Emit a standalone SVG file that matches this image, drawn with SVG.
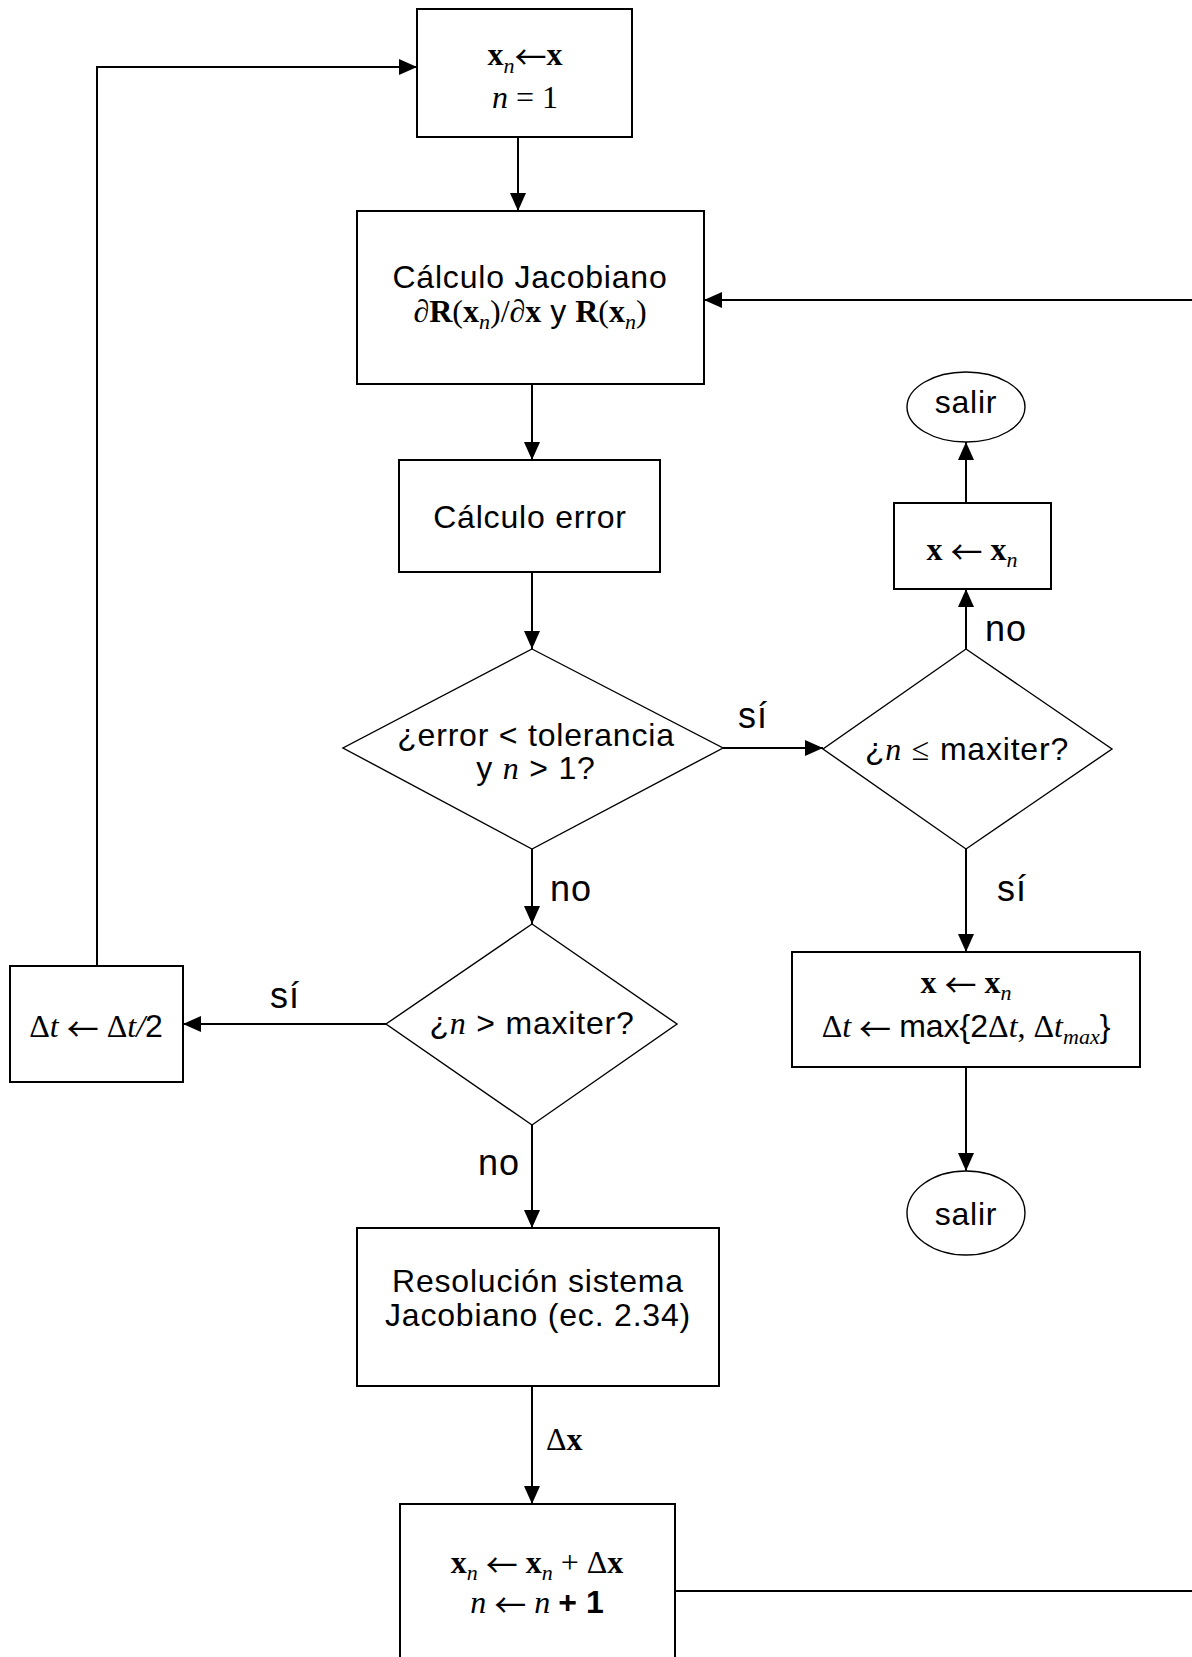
<svg xmlns="http://www.w3.org/2000/svg" width="1192" height="1657" viewBox="0 0 1192 1657">
<style>
.box{fill:#fff;stroke:#000;stroke-width:2}
.dia{fill:#fff;stroke:#000;stroke-width:1.4}
.ell{fill:#fff;stroke:#000;stroke-width:1.4}
.con{fill:none;stroke:#000;stroke-width:2}
.t{font-family:"Liberation Sans",Arial,sans-serif;font-size:32px;letter-spacing:0.8px;text-anchor:middle;fill:#000}
.lbl{font-family:"Liberation Sans",Arial,sans-serif;font-size:36px;letter-spacing:1px;fill:#000}
.m{font-family:"Liberation Serif","Times New Roman",serif;font-size:32px;text-anchor:middle;fill:#000}
.ms{font-family:"Liberation Serif","Times New Roman",serif;font-size:32px;text-anchor:start;fill:#000}
.b{font-weight:bold}
.i{font-style:italic}
.s{font-family:"Liberation Sans",Arial,sans-serif}
.r{font-family:"Liberation Serif","Times New Roman",serif}
.sub{font-size:22px}
.ar{font-family:"Noto Sans CJK JP","Noto Sans CJK SC","DejaVu Sans",sans-serif;font-size:32px;font-weight:normal;font-style:normal}
</style>
<defs>
<marker id="ah" markerUnits="userSpaceOnUse" markerWidth="18" markerHeight="16" refX="18" refY="8" orient="auto">
<path d="M0,0 L18,8 L0,16 z" fill="#000"/>
</marker>
</defs>
<rect width="1192" height="1657" fill="#fff"/>

<g id="connectors">
<line class="con" x1="518" y1="137" x2="518" y2="211" marker-end="url(#ah)"/>
<line class="con" x1="532" y1="384" x2="532" y2="460" marker-end="url(#ah)"/>
<line class="con" x1="532" y1="572" x2="532" y2="649" marker-end="url(#ah)"/>
<line class="con" x1="723" y1="748" x2="823" y2="748" marker-end="url(#ah)"/>
<line class="con" x1="966" y1="649" x2="966" y2="589" marker-end="url(#ah)"/>
<line class="con" x1="966" y1="503" x2="966" y2="442" marker-end="url(#ah)"/>
<line class="con" x1="966" y1="849" x2="966" y2="952" marker-end="url(#ah)"/>
<line class="con" x1="966" y1="1067" x2="966" y2="1171" marker-end="url(#ah)"/>
<line class="con" x1="532" y1="849" x2="532" y2="924" marker-end="url(#ah)"/>
<line class="con" x1="386" y1="1024" x2="183" y2="1024" marker-end="url(#ah)"/>
<path class="con" d="M97,966 V67 H417" marker-end="url(#ah)"/>
<line class="con" x1="532" y1="1125" x2="532" y2="1228" marker-end="url(#ah)"/>
<line class="con" x1="532" y1="1386" x2="532" y2="1504" marker-end="url(#ah)"/>
<path class="con" d="M675,1591 H1215 V300 H704" marker-end="url(#ah)"/>
<text class="lbl" x="753" y="728" text-anchor="middle">sí</text>
<text class="lbl" x="1006" y="641" text-anchor="middle">no</text>
<text class="lbl" x="1012" y="901" text-anchor="middle">sí</text>
<text class="lbl" x="571" y="901" text-anchor="middle">no</text>
<text class="lbl" x="285" y="1008" text-anchor="middle">sí</text>
<text class="lbl" x="499" y="1175" text-anchor="middle">no</text>
<text class="ms" x="546" y="1450">Δ<tspan class="b">x</tspan></text>
</g>

<g id="init">
<rect class="box" x="417" y="9" width="215" height="128"/>
<text class="m" x="525" y="65"><tspan class="b">x</tspan><tspan class="i sub" dy="8">n</tspan><tspan class="ar" dy="-4">←</tspan><tspan class="b" dy="-4">x</tspan></text>
<text class="m" x="525" y="108"><tspan class="i">n</tspan> = 1</text>
</g>

<g id="jacobian">
<rect class="box" x="357" y="211" width="347" height="173"/>
<text class="t" x="530" y="288">Cálculo Jacobiano</text>
<text class="m" x="530" y="322"><tspan class="i">∂</tspan><tspan class="b">R</tspan>(<tspan class="b">x</tspan><tspan class="i sub" dy="7">n</tspan><tspan dy="-7">)/</tspan><tspan class="i">∂</tspan><tspan class="b">x</tspan><tspan class="s"> y </tspan><tspan class="b">R</tspan>(<tspan class="b">x</tspan><tspan class="i sub" dy="7">n</tspan><tspan dy="-7">)</tspan></text>
</g>

<g id="error">
<rect class="box" x="399" y="460" width="261" height="112"/>
<text class="t" x="530" y="528">Cálculo error</text>
</g>

<g id="check-tol">
<polygon class="dia" points="532,649 723,748 532,849 343,748"/>
<text class="t" x="536" y="746">¿error &lt; tolerancia</text>
<text class="t" x="536" y="779">y <tspan class="r i">n</tspan> &gt; 1?</text>
</g>

<g id="check-le">
<polygon class="dia" points="966,649 1112,749 966,849 823,749"/>
<text class="t" x="967" y="760">¿<tspan class="r i">n</tspan> <tspan class="r">≤</tspan> maxiter?</text>
</g>

<g id="assign1">
<rect class="box" x="894" y="503" width="157" height="86"/>
<text class="m" x="972" y="560"><tspan class="b">x</tspan> <tspan class="ar" dy="4">←</tspan> <tspan class="b" dy="-4">x</tspan><tspan class="i sub" dy="7">n</tspan></text>
</g>

<g id="exit1">
<ellipse class="ell" cx="966" cy="407" rx="59" ry="35"/>
<text class="t" x="966" y="413">salir</text>
</g>

<g id="assign2">
<rect class="box" x="792" y="952" width="348" height="115"/>
<text class="m" x="966" y="993"><tspan class="b">x</tspan> <tspan class="ar" dy="4">←</tspan> <tspan class="b" dy="-4">x</tspan><tspan class="i sub" dy="7">n</tspan></text>
<text class="m" x="966" y="1037">Δ<tspan class="i">t</tspan> <tspan class="ar" dy="4">←</tspan> <tspan class="s" dy="-4">max{2</tspan>Δ<tspan class="i">t</tspan>, Δ<tspan class="i">t</tspan><tspan class="i sub" dy="7">max</tspan><tspan class="s" dy="-7">}</tspan></text>
</g>

<g id="exit2">
<ellipse class="ell" cx="966" cy="1213" rx="59" ry="42"/>
<text class="t" x="966" y="1225">salir</text>
</g>

<g id="check-gt">
<polygon class="dia" points="532,924 677,1024 532,1125 386,1024"/>
<text class="t" x="532" y="1034">¿<tspan class="r i">n</tspan> &gt; maxiter?</text>
</g>

<g id="halve">
<rect class="box" x="10" y="966" width="173" height="116"/>
<text class="m" x="96" y="1037">Δ<tspan class="i">t</tspan> <tspan class="ar" dy="4">←</tspan> <tspan dy="-4">Δ</tspan><tspan class="i">t</tspan><tspan class="i">/</tspan><tspan class="s">2</tspan></text>
</g>

<g id="solve">
<rect class="box" x="357" y="1228" width="362" height="158"/>
<text class="t" x="538" y="1292">Resolución sistema</text>
<text class="t" x="538" y="1326">Jacobiano (ec. 2.34)</text>
</g>

<g id="update">
<rect class="box" x="400" y="1504" width="275" height="170"/>
<text class="m" x="537" y="1573"><tspan class="b">x</tspan><tspan class="i sub" dy="7">n</tspan> <tspan class="ar" dy="-3">←</tspan> <tspan class="b" dy="-4">x</tspan><tspan class="i sub" dy="7">n</tspan><tspan dy="-7"> + Δ</tspan><tspan class="b">x</tspan></text>
<text class="m" x="537" y="1613"><tspan class="i">n</tspan> <tspan class="ar" dy="4">←</tspan> <tspan class="i" dy="-4">n</tspan> <tspan class="s b">+ 1</tspan></text>
</g>
</svg>
